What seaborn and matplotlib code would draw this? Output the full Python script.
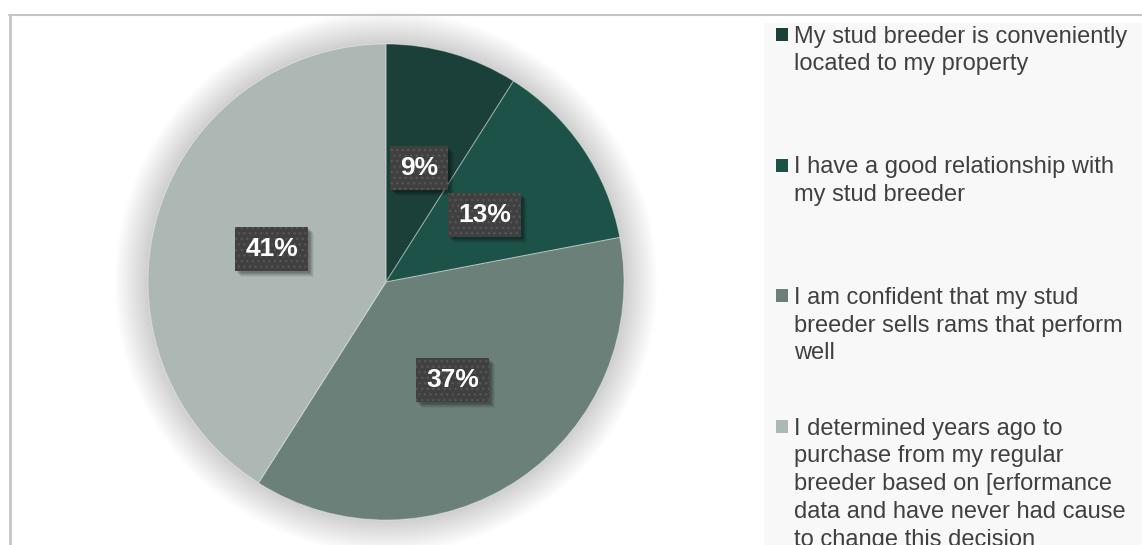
import matplotlib
matplotlib.use("Agg")
import matplotlib.pyplot as plt
from matplotlib.patches import Circle, Rectangle
from matplotlib.lines import Line2D
from matplotlib.transforms import IdentityTransform
import seaborn as sns

categories = [
    "My stud breeder is conveniently\nlocated to my property",
    "I have a good relationship with\nmy stud breeder",
    "I am confident that my stud\nbreeder sells rams that perform\nwell",
    "I determined years ago to\npurchase from my regular\nbreeder based on [erformance\ndata and have never had cause\nto change this decision",
]
shares = [9, 13, 37, 41]
colors = ["#1a4039", "#1d5249", "#6b8079", "#adb8b4"]

sns.set_theme(style="white")
plt.rcParams['font.family'] = ['Liberation Sans', 'DejaVu Sans']

W, H = 1142, 545
fig = plt.figure(figsize=(W / 100, H / 100), dpi=100)
fig.patch.set_facecolor('white')


def fx(x):
    return x / W


def fy(y):
    return 1 - y / H


# legend panel background
fig.add_artist(Rectangle((fx(764), 0), 1 - fx(764), fy(23), transform=fig.transFigure,
                         facecolor='#f8f8f8', edgecolor='none', zorder=0))
# chart frame lines
fig.add_artist(Line2D([fx(9), 1], [fy(15), fy(15)], transform=fig.transFigure,
                      color='#c6c6c6', lw=1.5))
fig.add_artist(Line2D([fx(10), fx(10)], [fy(15), 0], transform=fig.transFigure,
                      color='#c6c6c6', lw=2))

cx, cy, R = 386, 282, 238
ax = fig.add_axes([fx(cx - R), (H - cy - R) / H, 2 * R / W, 2 * R / H])
palette = sns.color_palette(colors)

# soft glow around the pie
N = 24
for i in range(N):
    r = 1 + 0.14 * (i + 1) / N
    ax.add_patch(Circle((0, 0), r, facecolor='black', edgecolor='none',
                        alpha=0.006, zorder=0, clip_on=False))

wedges, texts, autotexts = ax.pie(
    shares, colors=palette, startangle=90, counterclock=False,
    autopct=lambda p: f"{p:.0f}%", pctdistance=0.5,
    wedgeprops=dict(edgecolor=(1, 1, 1, 0.35), linewidth=0.8),
    textprops=dict(color='white', fontsize=19, fontweight='bold'))

for t in autotexts:
    t.set_zorder(5)
    t.set_bbox(dict(boxstyle='square,pad=0.38', facecolor='#404040',
                    edgecolor='#555555', linewidth=0, hatch='...'))

ax.set_xlim(-1, 1)
ax.set_ylim(-1, 1)
ax.set_aspect('equal')
ax.axis('off')

# blurred drop shadow behind each label box
fig.canvas.draw()
renderer = fig.canvas.get_renderer()
for t in autotexts:
    bb = t.get_bbox_patch().get_window_extent(renderer)
    for d, a in [(2, 0.10), (3, 0.10), (4, 0.09), (5, 0.07), (6, 0.05)]:
        ax.add_artist(Rectangle((bb.x0 + d, bb.y0 - d), bb.width, bb.height,
                                transform=IdentityTransform(), facecolor='black',
                                edgecolor='none', alpha=a, zorder=4, clip_on=False))

# legend entries
base0, pitch = 43, 130.7
for i, (label, col) in enumerate(zip(categories, palette)):
    base = base0 + i * pitch
    fig.add_artist(Rectangle((fx(776), fy(base - 2)), 12 / W, 13 / H,
                             transform=fig.transFigure, facecolor=col, edgecolor='none'))
    fig.text(fx(794), fy(base - 17.5), label, fontsize=17, color='#404040',
             va='top', ha='left', linespacing=1.34)

fig.savefig('out.png', dpi=100)
